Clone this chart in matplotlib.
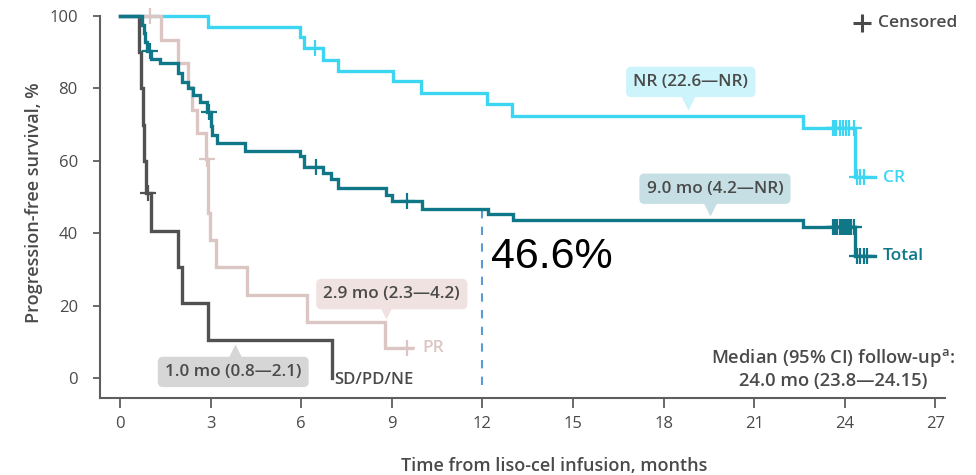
import matplotlib
matplotlib.use("Agg")
from matplotlib import pyplot as plt

# Kaplan-Meier step data (months, PFS %)
cr_t = [0, 2.91, 5.96, 6.09, 6.72, 7.22, 9.04, 9.97, 12.15, 12.98, 22.6, 24.34]
cr_s = [100, 96.9, 94.3, 91.1, 87.8, 84.9, 82.1, 78.6, 75.7, 72.5, 69.1, 55.5]
cr_end = 25.0
cr_cens_t = [6.46, 23.6, 23.65, 23.72, 23.85, 23.95, 24.05, 24.15, 24.3, 24.42, 24.5, 24.65]
cr_cens_s = [91.1, 69.1, 69.1, 69.1, 69.1, 69.1, 69.1, 69.1, 69.1, 55.5, 55.5, 55.5]

tot_t = [0, 0.72, 0.78, 0.84, 0.9, 1.02, 1.33, 1.93, 2.04, 2.26, 2.43, 2.65, 2.87, 3.0, 3.05, 3.2,
         4.14, 5.96, 6.08, 6.73, 7.0, 7.23, 8.8, 9.0, 9.99, 12.17, 13.0, 22.6, 24.34]
tot_s = [100, 97.6, 95.2, 92.8, 90.4, 88.0, 86.9, 84.2, 81.9, 80.0, 78.2, 76.3, 73.5, 69.5, 67.0, 65.0,
         62.8, 61.3, 58.2, 56.7, 55.0, 52.4, 50.6, 48.8, 46.6, 45.2, 43.6, 41.6, 33.6]
tot_end = 25.0
tot_cens_t = [1.0, 2.95, 6.5, 9.5, 23.6, 23.68, 23.75, 23.85, 23.9, 23.95, 24.0, 24.05, 24.1, 24.15,
              24.2, 24.3, 24.42, 24.5, 24.62, 24.75]
tot_cens_s = [90.4, 73.5, 58.2, 48.8] + [41.6] * 12 + [33.6] * 4

pr_t = [0, 1.37, 1.93, 2.26, 2.37, 2.56, 2.85, 2.9, 2.98, 3.18, 4.19, 6.18, 8.77]
pr_s = [100, 93.5, 87.0, 80.5, 74.0, 67.6, 60.4, 45.5, 38.1, 30.7, 22.9, 15.6, 8.2]
pr_end = 9.67
pr_cens_t = [1.0, 2.87, 9.5]
pr_cens_s = [100, 60.4, 8.2]

sd_t = [0, 0.64, 0.7, 0.75, 0.8, 0.86, 1.04, 1.93, 2.04, 2.92, 7.03]
sd_s = [100, 90, 80, 70, 60, 51, 40.5, 30.7, 20.6, 10.5, 0]
sd_cens_t = [0.94]
sd_cens_s = [51]

xticks = [0, 3, 6, 9, 12, 15, 18, 21, 24, 27]
yticks = [0, 20, 40, 60, 80, 100]

c_cr = "#3DD6F2"
c_tot = "#0F7788"
c_pr = "#DCC6C3"
c_sd = "#515151"
c_txt = "#4A4A4A"
c_axis = "#5E5E5E"

font = ["Open Sans", "Lato", "DejaVu Sans"]
plt.rcParams["font.family"] = font
W = "semibold"
FS = 12

fig = plt.figure(figsize=(9.76, 4.75), dpi=100)
ax = fig.add_axes([100 / 976, 1 - 398 / 475, 845 / 976, 382 / 475])

ax.set_xlim(-20 / 30.2, 825 / 30.2)
ax.set_ylim(-5.5, 100)


def km(t, s, end, color, z):
    tt = list(t) + [end]
    ss = list(s) + [s[-1]]
    ax.step(tt, ss, where="post", color=color, lw=2.4, zorder=z, clip_on=False,
            solid_joinstyle="miter")


km(cr_t, cr_s, cr_end, c_cr, 3)
km(sd_t, sd_s, sd_t[-1], c_sd, 4)
km(pr_t, pr_s, pr_end, c_pr, 5)
km(tot_t, tot_s, tot_end, c_tot, 6)

for ct, cs, col, z in [(cr_cens_t, cr_cens_s, c_cr, 3), (sd_cens_t, sd_cens_s, c_sd, 4),
                       (pr_cens_t, pr_cens_s, c_pr, 5), (tot_cens_t, tot_cens_s, c_tot, 6)]:
    ax.plot(ct, cs, ls="none", marker="+", ms=12, mew=1.6, color=col, zorder=z, clip_on=False)

# 12-month landmark
ax.plot([12, 12], [-2, 46.2], color="#5B9BD5", lw=1.5, dashes=(4, 4), zorder=2)
ax.text(12.3, 33.5, "46.6%", fontsize=31, family=["Liberation Sans", "DejaVu Sans"],
        color="black", va="center", ha="left")


# median callouts
def callout(x, y, txt, fc, tip_y, tip_x, up=False):
    ax.text(x, y, txt, fontsize=FS + 0.3, fontweight=W, color=c_txt, ha="center", va="center",
            bbox=dict(boxstyle="round,pad=0.42,rounding_size=0.3", fc=fc, ec="none"), zorder=8)
    ax.plot([tip_x], [tip_y], marker="^" if up else "v", ms=11, color=fc, mec="none", zorder=8)


callout(18.9, 81.8, "NR (22.6\u2014NR)", "#CDF3FB", 76.2, 18.8)
callout(19.7, 52.3, "9.0 mo (4.2\u2014NR)", "#C5DFE4", 47.0, 19.55)
callout(9.0, 23.2, "2.9 mo (2.3\u20144.2)", "#EFE2E0", 18.4, 8.8)
callout(3.75, 1.7, "1.0 mo (0.8\u20142.1)", "#D6D6D6", 7.2, 3.8, up=True)

# curve labels
ax.text(25.25, 55.3, "CR", color=c_cr, fontsize=FS + 0.5, fontweight=W, va="center", clip_on=False)
ax.text(25.25, 33.8, "Total", color=c_tot, fontsize=FS + 0.5, fontweight=W, va="center", clip_on=False)
ax.text(10.0, 8.2, "PR", color=c_pr, fontsize=FS + 0.5, fontweight=W, va="center")
ax.text(7.1, -0.4, "SD/PD/NE", color=c_txt, fontsize=FS, fontweight=W, va="center")

ax.text(23.62, 5.6, r"Median (95% CI) follow-up$^{\mathregular{a}}$:", color=c_txt, fontsize=FS + 1.2,
        fontweight=W, ha="center", va="center", clip_on=False)
ax.text(23.62, -0.8, "24.0 mo (23.8\u201424.15)", color=c_txt, fontsize=FS + 1.2,
        fontweight=W, ha="center", va="center")

# censored legend
ax.plot([24.57], [98.1], marker="+", ms=13, mew=2.2, color=c_txt, clip_on=False)
ax.text(25.1, 98.0, "Censored", color=c_txt, fontsize=FS + 0.5, fontweight=W, ha="left",
        va="center", clip_on=False)

# axes styling
for side in ["top", "right"]:
    ax.spines[side].set_visible(False)
for side in ["left", "bottom"]:
    ax.spines[side].set_color(c_axis)
    ax.spines[side].set_linewidth(1.5)

ax.set_xticks(xticks)
ax.set_yticks(yticks)
ax.tick_params(axis="x", direction="out", length=7, width=1.3, color=c_axis, pad=6,
               labelsize=12, labelcolor=c_txt)
ax.tick_params(axis="y", direction="out", length=5, width=1.3, color=c_axis, pad=11,
               labelsize=12, labelcolor=c_txt)

ax.set_xlabel("Time from liso-cel infusion, months", fontsize=13, fontweight=W, color=c_txt)
ax.xaxis.set_label_coords(0.538, -0.155)
ax.set_ylabel("Progression-free survival, %", fontsize=13, fontweight=W, color=c_txt)
ax.yaxis.set_label_coords(-0.067, 0.51)

fig.savefig("out.png", dpi=100)
